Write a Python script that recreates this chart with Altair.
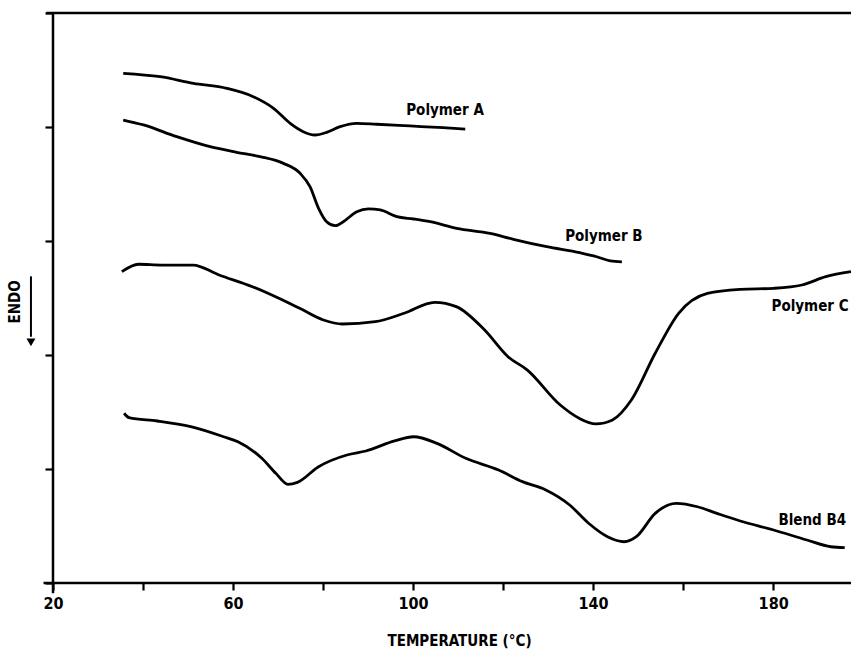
import altair as alt
import pandas as pd

FONT = "Liberation Sans Narrow, DejaVu Sans Condensed, Arial Narrow, sans-serif"

# Polymer A
a_t = [35.6, 43.8, 51.2, 58.6, 64.5, 69.0, 72.7, 75.6, 78.2, 80.8, 83.8, 87.5, 91.9, 99.3, 106.7, 111.6]
a_v = [4.471, 4.441, 4.383, 4.339, 4.266, 4.164, 4.032, 3.959, 3.930, 3.953, 4.003, 4.032, 4.024, 4.009, 3.994, 3.982]

# Polymer B
b_t = [35.6, 40.1, 47.5, 54.9, 60.8, 66.0, 71.2, 74.9, 77.1, 79.0, 80.8, 82.7, 84.5, 87.5, 90.1, 92.7,
       96.4, 100.1, 103.8, 109.7, 117.1, 122.3, 129.7, 137.1, 140.8, 143.8, 146.4]
b_v = [4.061, 4.018, 3.915, 3.827, 3.778, 3.740, 3.681, 3.594, 3.476, 3.287, 3.169, 3.134, 3.169, 3.257, 3.281, 3.272,
       3.213, 3.193, 3.169, 3.111, 3.067, 3.015, 2.950, 2.897, 2.862, 2.825, 2.816]

# Polymer C
c_t = [35.3, 39.0, 44.2, 51.1, 56.9, 64.3, 74.8, 80.1, 84.3, 91.6, 98.0, 104.8, 109.6, 115.9, 121.1, 125.4,
       132.7, 136.9, 140.6, 144.3, 148.5, 153.8, 159.0, 165.4, 172.7, 180.1, 186.4, 191.7, 197.3]
c_v = [2.731, 2.796, 2.789, 2.789, 2.702, 2.599, 2.410, 2.307, 2.272, 2.292, 2.366, 2.462, 2.424, 2.219, 1.985, 1.868,
       1.561, 1.445, 1.395, 1.430, 1.605, 2.015, 2.366, 2.541, 2.576, 2.585, 2.614, 2.687, 2.731]

# Blend B4
d_t = [35.8, 36.9, 43.2, 50.6, 57.9, 61.1, 66.4, 69.5, 72.2, 74.3, 79.0, 85.3, 89.5, 95.9, 100.1, 105.3, 111.7,
       119.0, 124.3, 129.5, 134.8, 139.0, 143.2, 146.9, 149.6, 153.8, 158.5, 163.2, 167.5, 172.7, 180.1, 187.5,
       192.8, 195.9]
d_v = [1.489, 1.450, 1.421, 1.371, 1.283, 1.239, 1.094, 0.962, 0.866, 0.883, 1.020, 1.123, 1.158, 1.246, 1.283,
       1.225, 1.094, 0.991, 0.889, 0.816, 0.684, 0.524, 0.406, 0.362, 0.406, 0.611, 0.699, 0.669, 0.611, 0.544,
       0.465, 0.377, 0.318, 0.310]

series_names = ["Polymer A", "Polymer B", "Polymer C", "Blend B4"]
label_t = [107.1, 142.4, 188.2, 188.7]
label_v = [4.149, 3.044, 2.430, 0.553]

x_ticks = [20, 40, 60, 80, 100, 120, 140, 160, 180]
y_ticks = [0, 1, 2, 3, 4, 5]
x_domain = [20, 197.3]
y_domain = [0, 5]

rows = []
for name, ts, vs in zip(series_names, [a_t, b_t, c_t, d_t], [a_v, b_v, c_v, d_v]):
    for i, (t, v) in enumerate(zip(ts, vs)):
        rows.append({"series": name, "T": t, "v": v, "order": i})
df = pd.DataFrame(rows)
labels_df = pd.DataFrame({"label": series_names, "T": label_t, "v": label_v})

x_scale = alt.Scale(domain=x_domain, nice=False, zero=False)
y_scale = alt.Scale(domain=y_domain, nice=False, zero=False)

x_axis = alt.Axis(
    values=x_ticks, labelExpr="datum.value % 40 == 20 ? datum.label : ''",
    tickSize=7, tickWidth=2.2, tickColor="black", domain=False, grid=False,
    labelFont=FONT, labelFontSize=16, labelFontWeight="bold", labelColor="black", labelPadding=5,
    labelFlush=False,
    title="TEMPERATURE (°C)", titleFont=FONT, titleFontSize=15, titleFontWeight="bold",
    titleColor="black", titleX=406, titleY=62, titleAlign="center", titleBaseline="alphabetic",
)
y_axis = alt.Axis(
    values=y_ticks, labels=False, tickSize=8, tickWidth=2.2, tickColor="black",
    domain=False, grid=False, title="",
)

lines = alt.Chart(df).mark_line(interpolate="monotone", strokeWidth=2.8, color="black").encode(
    x=alt.X("T:Q", scale=x_scale, axis=x_axis),
    y=alt.Y("v:Q", scale=y_scale, axis=y_axis),
    detail="series:N",
    order="order:Q",
)

texts = alt.Chart(labels_df).mark_text(
    font=FONT, fontSize=15, fontWeight="bold", color="black", align="center", baseline="middle"
).encode(x="T:Q", y="v:Q", text="label:N")

frame_top = alt.Chart().mark_rule(color="black", strokeWidth=2.5).encode(
    x=alt.datum(18.5), x2=alt.datum(197.3), y=alt.datum(5))
frame_bottom = alt.Chart().mark_rule(color="black", strokeWidth=2.5).encode(
    x=alt.datum(17.9), x2=alt.datum(197.3), y=alt.datum(0))
frame_left = alt.Chart().mark_rule(color="black", strokeWidth=2.5).encode(
    x=alt.datum(20), y=alt.datum(-0.09), y2=alt.datum(5))

endo = alt.Chart().mark_text(
    text="ENDO", font=FONT, fontSize=15, fontWeight="bold", color="black", angle=270,
    align="center", baseline="middle"
).encode(x=alt.datum(11.6), y=alt.datum(2.465))
arrow_shaft = alt.Chart().mark_rule(color="black", strokeWidth=2).encode(
    x=alt.datum(15.1), y=alt.datum(2.69), y2=alt.datum(2.16))
arrow_head = alt.Chart().mark_point(shape="triangle-down", filled=True, color="black", size=80, opacity=1).encode(
    x=alt.datum(15.1), y=alt.datum(2.11))

chart = alt.layer(
    lines, texts, frame_top, frame_bottom, frame_left, endo, arrow_shaft, arrow_head
).properties(
    width=798, height=570,
    autosize=alt.AutoSizeParams(type="none"),
    padding={"left": 53, "top": 13, "right": 0, "bottom": 67},
    background="white",
).configure_view(stroke=None)

chart.save("out.html", embed_options={"renderer": "svg", "actions": False})
